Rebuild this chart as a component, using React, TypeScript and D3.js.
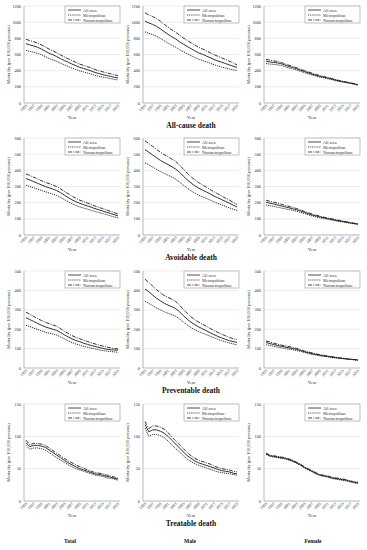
import React from "react";
import * as d3 from "d3";

const years = d3.range(1995, 2020);
const tickYears = [1995, 1997, 1999, 2001, 2003, 2005, 2007, 2009, 2011, 2013, 2015, 2017, 2019];
const seriesNames = ["All area", "Metropolitan", "Nonmetropolitan"];
const rowTitles = ["All-cause death", "Avoidable death", "Preventable death", "Treatable death"];
const colTitles = ["Total", "Male", "Female"];
const rowMax = [1200, 600, 500, 150];
const rowStep = [200, 100, 100, 50];

// All-cause
const allCauseTotalAll = [734, 718, 705, 690, 668, 642, 616, 596, 575, 548, 526, 504, 482, 462, 441, 428, 412, 396, 378, 364, 352, 340, 330, 318, 311];
const allCauseTotalMetro = [651, 640, 628, 615, 598, 575, 552, 534, 515, 492, 472, 452, 432, 414, 397, 385, 372, 358, 343, 331, 321, 311, 302, 292, 286];
const allCauseTotalNon = [788, 772, 758, 741, 720, 695, 667, 645, 622, 594, 570, 547, 524, 503, 481, 466, 450, 434, 414, 398, 386, 374, 362, 348, 340];
const allCauseMaleAll = [1013, 990, 972, 948, 918, 884, 850, 820, 792, 758, 728, 700, 672, 646, 620, 602, 582, 560, 538, 520, 504, 488, 472, 454, 440];
const allCauseMaleMetro = [880, 862, 846, 825, 800, 770, 740, 714, 690, 660, 634, 610, 586, 563, 542, 527, 510, 492, 474, 458, 445, 432, 420, 410, 402];
const allCauseMaleNon = [1115, 1090, 1070, 1045, 1012, 975, 938, 905, 875, 838, 805, 775, 745, 716, 688, 668, 646, 622, 598, 578, 558, 538, 518, 496, 472];
const allCauseFemaleAll = [517, 508, 502, 496, 485, 468, 452, 438, 424, 405, 390, 374, 358, 344, 330, 320, 310, 298, 285, 274, 264, 255, 246, 236, 224];
const allCauseFemaleMetro = [488, 482, 478, 473, 464, 448, 434, 421, 408, 390, 376, 361, 346, 333, 320, 311, 302, 290, 278, 268, 259, 250, 242, 232, 220];
const allCauseFemaleNon = [541, 530, 522, 514, 502, 484, 467, 452, 437, 418, 402, 385, 369, 354, 339, 328, 318, 305, 292, 280, 270, 260, 250, 240, 228];

// Avoidable
const avoidTotalAll = [349, 340, 330, 320, 310, 300, 292, 284, 275, 262, 246, 232, 218, 206, 196, 188, 180, 172, 163, 156, 148, 141, 134, 126, 119];
const avoidTotalMetro = [308, 300, 292, 284, 276, 268, 260, 253, 245, 233, 219, 206, 194, 183, 174, 167, 160, 153, 145, 139, 132, 126, 119, 112, 107];
const avoidTotalNon = [378, 368, 358, 347, 336, 326, 318, 309, 300, 286, 270, 255, 240, 227, 216, 207, 198, 189, 179, 171, 163, 155, 147, 138, 131];
const avoidMaleAll = [528, 512, 495, 478, 462, 448, 436, 422, 408, 388, 364, 342, 322, 305, 290, 278, 266, 254, 241, 230, 219, 208, 197, 185, 173];
const avoidMaleMetro = [446, 434, 420, 406, 393, 381, 370, 358, 346, 328, 308, 290, 273, 259, 246, 236, 226, 216, 205, 195, 186, 177, 168, 160, 152];
const avoidMaleNon = [583, 565, 548, 530, 512, 497, 484, 470, 455, 433, 407, 383, 360, 341, 324, 310, 296, 282, 267, 254, 241, 228, 216, 202, 189];
const avoidFemaleAll = [203, 197, 192, 186, 180, 174, 168, 162, 156, 148, 140, 132, 124, 118, 112, 107, 102, 97, 92, 88, 84, 79, 75, 71, 67];
const avoidFemaleMetro = [186, 181, 177, 172, 167, 162, 157, 152, 147, 140, 133, 125, 118, 112, 107, 102, 98, 93, 88, 84, 81, 77, 73, 69, 66];
const avoidFemaleNon = [215, 209, 203, 197, 190, 183, 177, 170, 164, 155, 146, 138, 130, 123, 117, 111, 106, 101, 96, 91, 87, 82, 77, 73, 69];

// Preventable
const prevTotalAll = [259, 250, 240, 230, 221, 212, 206, 200, 194, 183, 171, 160, 150, 142, 136, 128, 122, 116, 111, 106, 101, 97, 94, 93, 92];
const prevTotalMetro = [220, 213, 206, 199, 192, 185, 180, 175, 170, 160, 150, 140, 131, 124, 118, 112, 107, 102, 98, 94, 90, 87, 85, 83, 81];
const prevTotalNon = [288, 277, 266, 255, 245, 236, 229, 222, 215, 203, 190, 178, 167, 158, 151, 144, 137, 130, 124, 118, 113, 108, 104, 101, 98];
const prevMaleAll = [407, 393, 376, 360, 346, 334, 324, 316, 306, 290, 270, 252, 236, 223, 212, 202, 192, 182, 172, 163, 155, 148, 141, 136, 132];
const prevMaleMetro = [344, 333, 322, 310, 300, 290, 282, 275, 267, 253, 237, 222, 208, 197, 188, 180, 172, 164, 156, 148, 141, 135, 129, 124, 119];
const prevMaleNon = [458, 441, 422, 404, 388, 374, 364, 355, 343, 324, 302, 282, 264, 249, 237, 226, 215, 204, 193, 183, 174, 166, 158, 151, 146];
const prevFemaleAll = [131, 126, 121, 116, 112, 108, 104, 100, 96, 90, 84, 79, 74, 70, 66, 63, 60, 57, 54, 51, 49, 47, 45, 43, 41];
const prevFemaleMetro = [120, 116, 112, 108, 104, 100, 97, 94, 90, 85, 80, 75, 70, 67, 63, 60, 58, 55, 52, 50, 48, 46, 44, 42, 40];
const prevFemaleNon = [139, 134, 128, 123, 118, 114, 110, 106, 101, 95, 88, 83, 78, 73, 69, 66, 62, 59, 56, 53, 51, 48, 46, 44, 42];

// Treatable
const treatTotalAll = [90, 84, 86, 86, 85, 83, 79, 75, 71, 67, 63, 59, 56, 53, 50, 48, 46, 44, 42, 41, 40, 38, 37, 35, 34];
const treatTotalMetro = [86, 80, 82, 82, 81, 79, 75, 71, 67, 63, 60, 56, 53, 50, 48, 46, 44, 42, 40, 39, 38, 36, 35, 34, 32];
const treatTotalNon = [94, 87, 89, 89, 88, 86, 82, 78, 74, 70, 66, 62, 59, 56, 53, 51, 48, 46, 44, 43, 42, 40, 39, 37, 35];
const treatMaleAll = [118, 107, 110, 110, 108, 105, 100, 94, 88, 82, 76, 70, 66, 62, 59, 57, 55, 53, 51, 49, 47, 46, 45, 43, 42];
const treatMaleMetro = [113, 100, 103, 103, 101, 98, 93, 87, 81, 76, 70, 65, 61, 58, 55, 53, 51, 49, 47, 45, 44, 43, 42, 41, 40];
const treatMaleNon = [123, 112, 116, 116, 114, 111, 106, 99, 93, 87, 81, 75, 70, 66, 63, 61, 59, 57, 54, 52, 50, 49, 48, 46, 45];
const treatFemaleAll = [73, 70, 69, 68, 67, 66, 64, 62, 59, 56, 52, 49, 46, 43, 40, 39, 38, 36, 35, 34, 33, 32, 30, 29, 28];
const treatFemaleMetro = [72, 69, 68, 67, 66, 65, 63, 61, 58, 55, 51, 48, 45, 42, 40, 38, 37, 35, 34, 33, 32, 31, 30, 28, 27];
const treatFemaleNon = [74, 71, 70, 69, 68, 67, 65, 63, 60, 57, 53, 50, 47, 44, 41, 40, 39, 37, 36, 35, 34, 33, 31, 30, 29];

const panels: number[][][][] = [
  [
    [allCauseTotalAll, allCauseTotalMetro, allCauseTotalNon],
    [allCauseMaleAll, allCauseMaleMetro, allCauseMaleNon],
    [allCauseFemaleAll, allCauseFemaleMetro, allCauseFemaleNon],
  ],
  [
    [avoidTotalAll, avoidTotalMetro, avoidTotalNon],
    [avoidMaleAll, avoidMaleMetro, avoidMaleNon],
    [avoidFemaleAll, avoidFemaleMetro, avoidFemaleNon],
  ],
  [
    [prevTotalAll, prevTotalMetro, prevTotalNon],
    [prevMaleAll, prevMaleMetro, prevMaleNon],
    [prevFemaleAll, prevFemaleMetro, prevFemaleNon],
  ],
  [
    [treatTotalAll, treatTotalMetro, treatTotalNon],
    [treatMaleAll, treatMaleMetro, treatMaleNon],
    [treatFemaleAll, treatFemaleMetro, treatFemaleNon],
  ],
];

const colX = [24, 143, 264];
const rowY = [6, 138, 271, 404];
const PW = 96;
const PH = 97;
const FONT = "Liberation Serif, Times New Roman, serif";
const dashes = ["", "1.2,0.9", "4,1.2,1,1.2"];

function Panel({ r, c }: { r: number; c: number }) {
  const x0 = colX[c];
  const y0 = rowY[r];
  const x = d3.scaleLinear().domain([1995, 2019]).range([x0 + 2, x0 + PW - 2]);
  const y = d3.scaleLinear().domain([0, rowMax[r]]).range([y0 + PH, y0]);
  const ticks = d3.range(0, rowMax[r] + 1, rowStep[r]);
  const line = d3
    .line<number>()
    .x((_, i) => x(years[i]))
    .y((v) => y(v));
  const lx = x0 + 41;
  const ly = y0;
  return (
    <g>
      {ticks.map((t) => (
        <g key={t}>
          {t > 0 && (
            <line x1={x0} x2={x0 + PW} y1={y(t)} y2={y(t)} stroke="#d9d9d9" strokeWidth={0.5} />
          )}
          <text x={x0 - 3} y={y(t) + 1.5} fontSize={4.3} textAnchor="end" fontFamily={FONT} fill="#333">
            {t}
          </text>
        </g>
      ))}
      <line x1={x0} x2={x0} y1={y0} y2={y0 + PH} stroke="#888" strokeWidth={0.6} />
      <line x1={x0} x2={x0 + PW} y1={y0 + PH} y2={y0 + PH} stroke="#888" strokeWidth={0.6} />
      {tickYears.map((yr) => (
        <text
          key={yr}
          transform={`translate(${x(yr) + 1.5},${y0 + PH + 3}) rotate(-45)`}
          fontSize={4.1}
          textAnchor="end"
          fontFamily={FONT}
          fill="#333"
        >
          {yr}
        </text>
      ))}
      <text x={x0 + PW / 2} y={y0 + PH + 16} fontSize={4.6} textAnchor="middle" fontFamily={FONT} fill="#333">
        Year
      </text>
      <text
        transform={`translate(${x0 - 14},${y0 + PH / 2}) rotate(-90)`}
        fontSize={4.6}
        textAnchor="middle"
        fontFamily={FONT}
        fill="#333"
      >
        Mortality (per 100,000 persons)
      </text>
      {panels[r][c].map((s, i) => (
        <path
          key={i}
          d={line(s) || ""}
          fill="none"
          stroke="#1a1a1a"
          strokeWidth={0.9}
          strokeDasharray={dashes[i] || undefined}
        />
      ))}
      <rect x={lx} y={ly} width={PW - 41} height={17} fill="white" stroke="#666" strokeWidth={0.4} />
      {seriesNames.map((n, i) => (
        <g key={n}>
          <line
            x1={lx + 3}
            x2={lx + 16}
            y1={ly + 4 + i * 5}
            y2={ly + 4 + i * 5}
            stroke="#222"
            strokeWidth={0.8}
            strokeDasharray={dashes[i] || undefined}
          />
          <text x={lx + 18} y={ly + 5.5 + i * 5} fontSize={4.3} fontFamily={FONT} fill="#333">
            {n}
          </text>
        </g>
      ))}
    </g>
  );
}

export default function App() {
  return (
    <svg
      width={367}
      height={550}
      style={{ position: "absolute", left: 0, top: 0, background: "white" }}
    >
      <rect width={367} height={550} fill="white" />
      {[0, 1, 2, 3].map((r) =>
        [0, 1, 2].map((c) => <Panel key={`${r}-${c}`} r={r} c={c} />)
      )}
      {rowTitles.map((t, r) => (
        <text
          key={t}
          x={191}
          y={rowY[r] + PH + 25}
          fontSize={7.5}
          fontWeight="bold"
          textAnchor="middle"
          fontFamily={FONT}
          fill="#111"
        >
          {t}
        </text>
      ))}
      {colTitles.map((t, c) => (
        <text
          key={t}
          x={[70, 190, 313][c]}
          y={543}
          fontSize={5.5}
          fontWeight="bold"
          textAnchor="middle"
          fontFamily={FONT}
          fill="#111"
        >
          {t}
        </text>
      ))}
    </svg>
  );
}
